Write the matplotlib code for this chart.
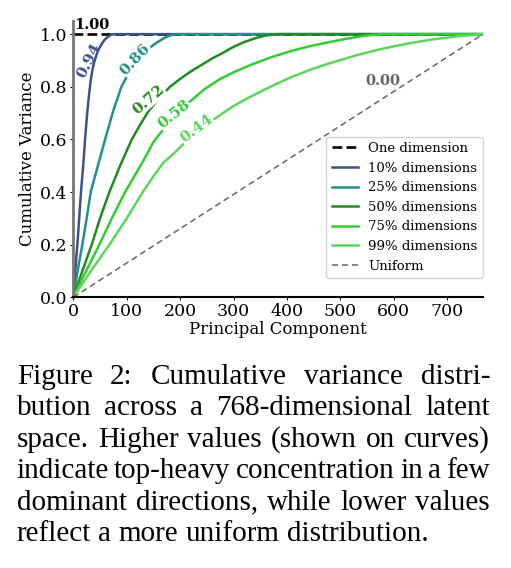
import matplotlib
matplotlib.use('Agg')
import matplotlib.pyplot as plt

# Cumulative variance curves (principal component, cumulative share)
x_one = [0, 767]
y_one = [1.0, 1.0]

x_10 = [0, 4, 7.6, 11, 14.4, 18.5, 22, 26, 30, 33, 36, 40, 44, 48, 53, 58, 64, 70, 76, 767]
y_10 = [0, 0.11, 0.2, 0.3, 0.4, 0.5, 0.6, 0.7, 0.78, 0.83, 0.867, 0.9, 0.925, 0.945, 0.962, 0.977, 0.989, 0.997, 1.0, 1.0]

x_25 = [0, 8, 16.9, 25, 32.6, 46, 59.5, 75, 90, 106, 122, 138, 154, 169, 181, 192, 767]
y_25 = [0, 0.1, 0.2, 0.3, 0.4, 0.5, 0.6, 0.71, 0.8, 0.86, 0.905, 0.94, 0.965, 0.984, 0.995, 1.0, 1.0]

x_50 = [0, 17, 34.4, 50, 67.6, 87.6, 109.5, 125, 140, 160, 181, 200, 219, 244, 262, 281, 300, 320, 340, 360, 384, 767]
y_50 = [0, 0.1, 0.2, 0.3, 0.4, 0.5, 0.6, 0.655, 0.705, 0.755, 0.8, 0.83, 0.857, 0.888, 0.91, 0.93, 0.952, 0.97, 0.984, 0.995, 1.0, 1.0]

x_75 = [0, 24, 48.8, 72, 97, 130, 150, 175, 197, 219, 245, 275, 300, 332, 370, 406, 440, 475, 510, 545, 576, 767]
y_75 = [0, 0.1, 0.2, 0.3, 0.4, 0.515, 0.59, 0.655, 0.705, 0.745, 0.79, 0.83, 0.855, 0.883, 0.912, 0.935, 0.953, 0.968, 0.982, 0.994, 1.0, 1.0]

x_99 = [0, 33, 67.6, 100, 130, 150, 168, 190, 210, 233, 257, 280, 300, 322, 344, 375, 406, 445, 481, 530, 575, 620, 669, 720, 767]
y_99 = [0, 0.1, 0.2, 0.3, 0.4, 0.46, 0.51, 0.55, 0.59, 0.63, 0.668, 0.7, 0.727, 0.752, 0.775, 0.806, 0.835, 0.866, 0.89, 0.92, 0.943, 0.962, 0.979, 0.992, 1.0]

x_uni = [0, 767]
y_uni = [0, 1.0]

labels = ["One dimension", "10% dimensions", "25% dimensions", "50% dimensions",
          "75% dimensions", "99% dimensions", "Uniform"]
scores = ["1.00", "0.94", "0.86", "0.72", "0.58", "0.44", "0.00"]

caption = [
    "Figure 2:  Cumulative variance distri-",
    "bution across a 768-dimensional latent",
    "space. Higher values (shown on curves)",
    "indicate top-heavy concentration in a few",
    "dominant directions, while lower values",
    "reflect a more uniform distribution.",
]

plt.rcParams['font.family'] = 'DejaVu Serif'

W, H = 511, 568
fig = plt.figure(figsize=(W / 100, H / 100), dpi=100)
ax = fig.add_axes([73.3 / W, 1 - 297.3 / H, (483 - 73.3) / W, (297.3 - 21) / H])

ax.plot(x_one, y_one, color='black', ls='--', lw=1.9, label=labels[0])
ax.plot(x_10, y_10, color='#3b528b', lw=1.8, label=labels[1])
ax.plot(x_25, y_25, color='#21918c', lw=1.8, label=labels[2])
ax.plot(x_50, y_50, color='#228b22', lw=1.8, label=labels[3])
ax.plot(x_75, y_75, color='#32cd32', lw=1.8, label=labels[4])
ax.plot(x_99, y_99, color='#5cd65c', lw=1.8, label=labels[5])
ax.plot(x_uni, y_uni, color='#666666', ls=(0, (4, 2.5)), lw=1.1, label=labels[6])

# score labels placed along the curves
box = dict(fc='white', ec='none', pad=0.3)
ax.text(1, 1.009, scores[0], color='black', fontsize=10.5, fontweight='bold', ha='left', va='bottom')
ax.text(29, 0.90, scores[1], color='#3b528b', fontsize=11, fontweight='bold',
        rotation=63, ha='center', va='center', rotation_mode='anchor')
ax.text(116, 0.905, scores[2], color='#21918c', fontsize=11, fontweight='bold',
        rotation=47, ha='center', va='center', rotation_mode='anchor', bbox=box)
ax.text(141, 0.75, scores[3], color='#228b22', fontsize=11, fontweight='bold',
        rotation=41, ha='center', va='center', rotation_mode='anchor', bbox=box)
ax.text(189, 0.695, scores[4], color='#32cd32', fontsize=11, fontweight='bold',
        rotation=39, ha='center', va='center', rotation_mode='anchor', bbox=box)
ax.text(231, 0.64, scores[5], color='#5cd65c', fontsize=11, fontweight='bold',
        rotation=37, ha='center', va='center', rotation_mode='anchor', bbox=box)
ax.text(580, 0.822, scores[6], color='#666666', fontsize=10.5, fontweight='bold',
        ha='center', va='center')

ax.set_xlim(0, 767)
ax.set_ylim(0, 1.05)
ax.set_xticks([0, 100, 200, 300, 400, 500, 600, 700])
ax.set_yticks([0.0, 0.2, 0.4, 0.6, 0.8, 1.0])
ax.tick_params(labelsize=12.5, length=2.5, pad=1.5)
ax.set_xlabel("Principal Component", fontsize=12, labelpad=1)
ax.set_ylabel("Cumulative Variance", fontsize=12, labelpad=3)
ax.spines['top'].set_visible(False)
ax.spines['right'].set_visible(False)
ax.spines['left'].set_color('#777777')
ax.spines['left'].set_linewidth(2)
ax.spines['bottom'].set_linewidth(1.5)

ax.legend(loc='lower right', bbox_to_anchor=(1.0, 0.07), borderaxespad=0, fontsize=9.5)

# justified caption under the chart
fs = 21
left, right = 16.7, 490.0
renderer = fig.canvas.get_renderer()
for i, line in enumerate(caption):
    base = 384 + 31.4 * i
    words = line.split()
    texts = [fig.text(0, 1 - base / H, w, fontsize=fs, family='Liberation Serif',
                      ha='left', va='baseline') for w in words]
    widths = [t.get_window_extent(renderer).width for t in texts]
    if i < len(caption) - 1:
        gap = (right - left - sum(widths)) / (len(words) - 1)
    else:
        gap = fs * 0.25 * 100 / 72
    xpos = left
    for t, wd in zip(texts, widths):
        t.set_x(xpos / W)
        xpos += wd + gap

fig.savefig('out.png', dpi=100)
